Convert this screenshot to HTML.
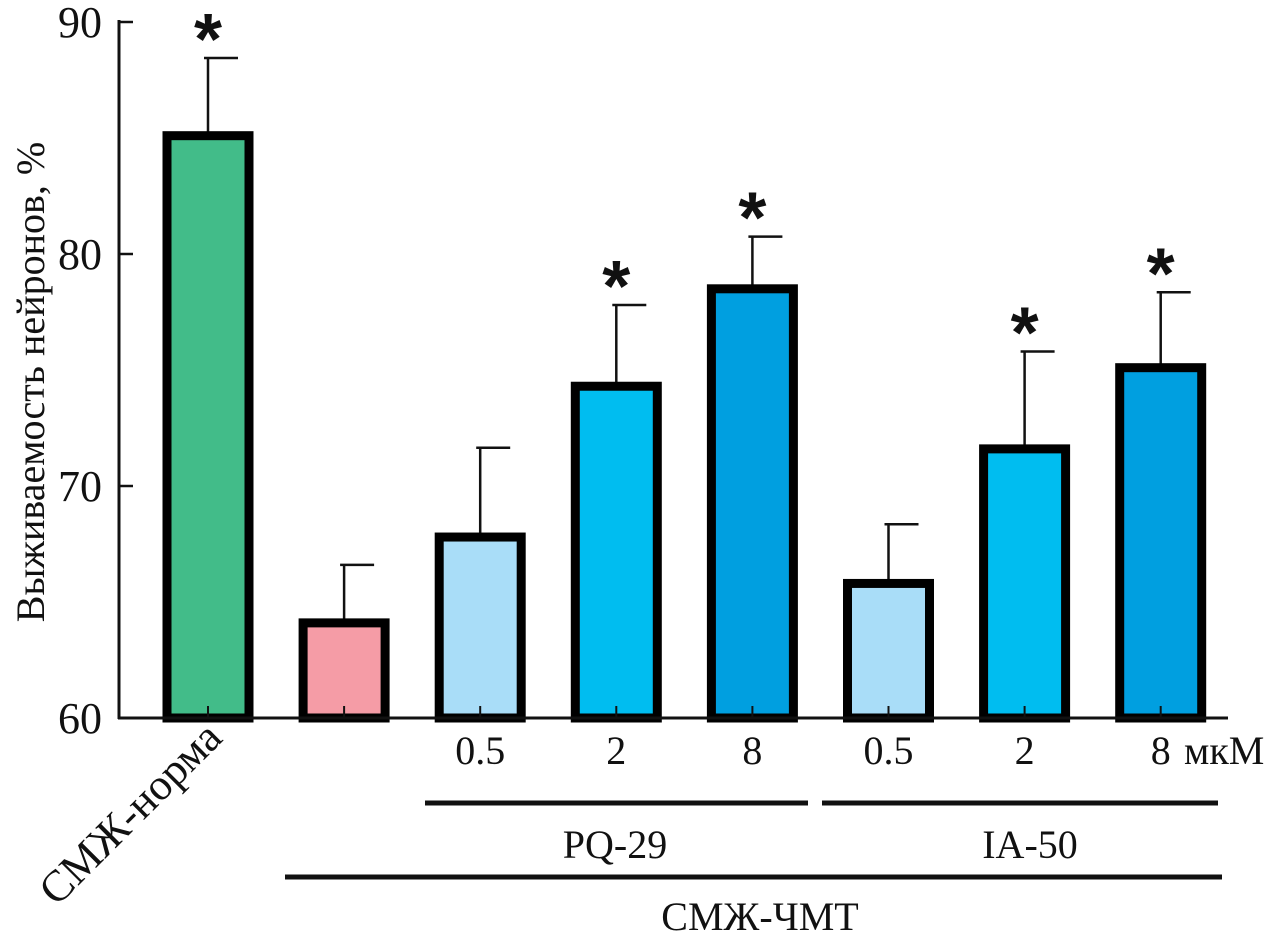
<!DOCTYPE html>
<html><head><meta charset="utf-8"><style>
html,body{margin:0;padding:0;background:#fff}
svg text{font-family:"Liberation Serif",serif;fill:#111}
</style></head><body>
<svg width="1276" height="942" viewBox="0 0 1276 942">
<g id="plot"></g>
<text x="0" y="0" font-size="40" text-anchor="middle" transform="translate(44,382) rotate(-90)">Выживаемость нейронов, %</text>
<text x="0" y="0" font-size="44" text-anchor="end" transform="translate(224,740) rotate(-45)">СМЖ-норма</text>
<line x1="425" y1="803" x2="808" y2="803" stroke="#111" stroke-width="5"/>
<line x1="822" y1="803" x2="1218" y2="803" stroke="#111" stroke-width="5"/>
<text x="615" y="858" font-size="40" text-anchor="middle">PQ-29</text>
<text x="1030" y="858" font-size="40" text-anchor="middle">IA-50</text>
<line x1="285" y1="877" x2="1222" y2="877" stroke="#111" stroke-width="5"/>
<text x="760" y="930" font-size="40" text-anchor="middle">СМЖ-ЧМТ</text>
<text x="1184" y="764" font-size="40" text-anchor="start">мкМ</text>
</svg>
<script>
const categories=["СМЖ-норма","СМЖ-ЧМТ","PQ-29 0.5","PQ-29 2","PQ-29 8","IA-50 0.5","IA-50 2","IA-50 8"];
const values=[85.1,64.1,67.8,74.3,78.5,65.8,71.6,75.1];
const errors=[3.35,2.5,3.85,3.5,2.25,2.55,4.2,3.25];
const significant=[true,false,false,true,true,false,true,true];
const doseLabels=["","","0.5","2","8","0.5","2","8"];
const yTicks=[60,70,80,90];
const colors=["#42bc89","#f59ca6","#a9ddf8","#00bdf0","#009fe0","#a9ddf8","#00bdf0","#009fe0"];
const NS="http://www.w3.org/2000/svg";
const g=document.getElementById('plot');
const y0=718,y1=22,vmin=60,vmax=90;
function yScale(v){return y0-(v-vmin)/(vmax-vmin)*(y0-y1);}
function xScale(i){return 208+i*136.1;}
function mk(t,a){const e=document.createElementNS(NS,t);for(const k in a)e.setAttribute(k,a[k]);g.appendChild(e);return e;}
values.forEach((v,i)=>{
  const cx=xScale(i),top=yScale(v),et=yScale(v+errors[i]);
  const el=mk('line',{x1:cx,y1:et,x2:cx,y2:top,stroke:'#111','stroke-width':2.5});
  
  
  const cap=mk('line',{x1:cx-4,y1:et,x2:cx+30,y2:et,stroke:'#111','stroke-width':2.5});
  
  
  const r=mk('rect',{x:cx-41,y:top,width:82,height:y0-top,fill:colors[i],stroke:'#000','stroke-width':9});
  
  
  const tk=mk('line',{x1:cx,y1:y0-12,x2:cx,y2:y0,stroke:'#111','stroke-width':2});
  
  
  if(significant[i]){
    const s=mk('text',{x:cx,y:et+6,'font-size':72,'font-weight':'bold','text-anchor':'middle'});
    s.style.fontFamily='"Liberation Sans",sans-serif';
    s.textContent='*';
    
    
  }
  if(doseLabels[i]){
    const t=mk('text',{x:cx,y:764,'font-size':40,'text-anchor':'middle'});
    t.textContent=doseLabels[i];
    
    
  }
});
yTicks.forEach(v=>{
  const y=yScale(v);
  const l=mk('line',{x1:120,y1:y,x2:133,y2:y,stroke:'#111','stroke-width':2.5});
  
  
  const t=mk('text',{x:102,y:y+15,'font-size':44,'text-anchor':'end'});
  t.textContent=v;
  
  
});
const ya=mk('line',{x1:119,y1:20,x2:119,y2:719,stroke:'#111','stroke-width':3});


const xa=mk('line',{x1:118,y1:718,x2:1228,y2:718,stroke:'#111','stroke-width':3});


</script>
</body></html>
